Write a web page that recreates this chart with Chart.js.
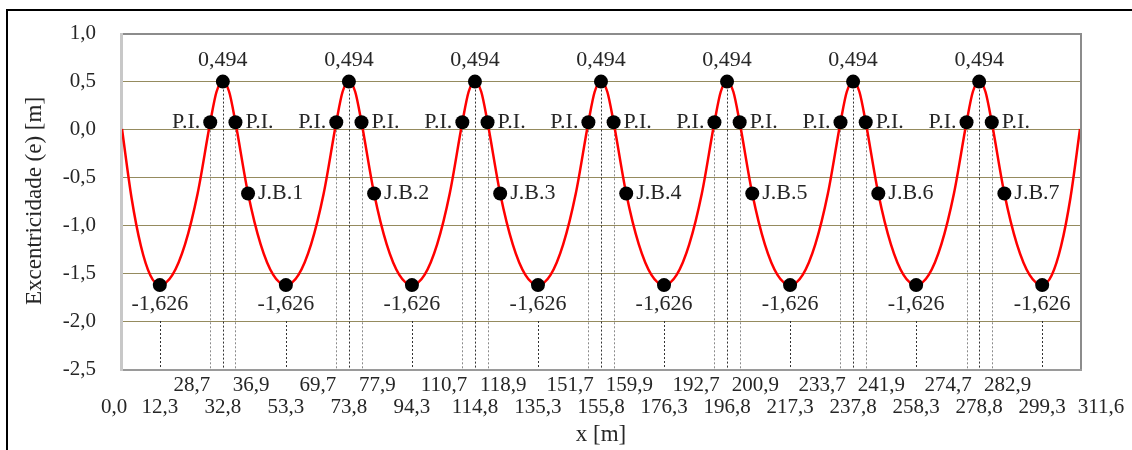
<!DOCTYPE html>
<html>
<head>
<meta charset="utf-8">
<script src="https://cdn.jsdelivr.net/npm/chart.js@4/dist/chart.umd.min.js"></script>
<style>
  html, body { margin: 0; padding: 0; background: #fff; }
  #wrap { width: 1132px; height: 450px; position: relative; }
</style>
</head>
<body>
<div id="wrap"><canvas id="chartCanvas" width="1132" height="450"></canvas></div>
<script>
// tendon profile
const profileX = [
  0, 3.1, 6.15, 9.2,
  12.3, 16.4, 20.5, 24.6, 28.7, 30.75, 32.8, 34.85, 36.9, 41.0, 45.1, 49.2,
  53.3, 57.4, 61.5, 65.6, 69.7, 71.75, 73.8, 75.85, 77.9, 82.0, 86.1, 90.2,
  94.3, 98.4, 102.5, 106.6, 110.7, 112.75, 114.8, 116.85, 118.9, 123.0, 127.1, 131.2,
  135.3, 139.4, 143.5, 147.6, 151.7, 153.75, 155.8, 157.85, 159.9, 164.0, 168.1, 172.2,
  176.3, 180.4, 184.5, 188.6, 192.7, 194.75, 196.8, 198.85, 200.9, 205.0, 209.1, 213.2,
  217.3, 221.4, 225.5, 229.6, 233.7, 235.75, 237.8, 239.85, 241.9, 246.0, 250.1, 254.2,
  258.3, 262.4, 266.5, 270.6, 274.7, 276.75, 278.8, 280.85, 282.9, 287.0, 291.1, 295.2,
  299.3, 302.4, 305.45, 308.5, 311.6
];
const profileY = [
  0, -0.716, -1.219, -1.523,
  -1.626, -1.520, -1.202, -0.672, 0.070, 0.388, 0.494, 0.388, 0.070, -0.672, -1.202, -1.520,
  -1.626, -1.520, -1.202, -0.672, 0.070, 0.388, 0.494, 0.388, 0.070, -0.672, -1.202, -1.520,
  -1.626, -1.520, -1.202, -0.672, 0.070, 0.388, 0.494, 0.388, 0.070, -0.672, -1.202, -1.520,
  -1.626, -1.520, -1.202, -0.672, 0.070, 0.388, 0.494, 0.388, 0.070, -0.672, -1.202, -1.520,
  -1.626, -1.520, -1.202, -0.672, 0.070, 0.388, 0.494, 0.388, 0.070, -0.672, -1.202, -1.520,
  -1.626, -1.520, -1.202, -0.672, 0.070, 0.388, 0.494, 0.388, 0.070, -0.672, -1.202, -1.520,
  -1.626, -1.520, -1.202, -0.672, 0.070, 0.388, 0.494, 0.388, 0.070, -0.672, -1.202, -1.520,
  -1.626, -1.523, -1.219, -0.716, 0
];

// marked points
const minX = [12.3, 53.3, 94.3, 135.3, 176.3, 217.3, 258.3, 299.3];
const minY = -1.626;
const peakX = [32.8, 73.8, 114.8, 155.8, 196.8, 237.8, 278.8];
const peakY = 0.494;
const piLeftX = [28.7, 69.7, 110.7, 151.7, 192.7, 233.7, 274.7];
const piRightX = [36.9, 77.9, 118.9, 159.9, 200.9, 241.9, 282.9];
const piY = 0.070;
const jbX = [41.0, 82.0, 123.0, 164.0, 205.0, 246.0, 287.0];
const jbY = -0.672;
const jbLabels = ["J.B.1", "J.B.2", "J.B.3", "J.B.4", "J.B.5", "J.B.6", "J.B.7"];

// x tick labels, two rows (upper row = inflection points)
const tickTop = piLeftX.concat(piRightX);
const tickBottom = [0.0, 12.3, 32.8, 53.3, 73.8, 94.3, 114.8, 135.3, 155.8, 176.3, 196.8, 217.3, 237.8, 258.3, 278.8, 299.3, 311.6];

const FONT = "'Liberation Serif', 'Times New Roman', serif";
const TXT = "#262626";
const GRID = "#958b5e";

function fmt(v, d){
    return v.toFixed(d).replace(".", ",");
}
function pts(xs, y){
    return xs.map(x => ({x: x, y: y}));
}
// labels in the upper row sit pushed away from each other, like in the original
function xLabel(value){
    const txt = fmt(value, 1);
    if (piLeftX.includes(value)) return txt + "       ";
    if (piRightX.includes(value)) return "      " + txt;
    if (value === 0) return ["", txt + "   "];
    if (value === 311.6) return ["", "        " + txt];
    return ["", txt];
}

const decorPlugin = {
    id: "decor",
    beforeDraw(chart){
        const ctx = chart.ctx;
        ctx.save();
        ctx.fillStyle = "#000";
        ctx.fillRect(6, 9, 1132, 2);
        ctx.fillRect(6, 9, 2, 450);
        ctx.restore();
    },
    beforeDatasetsDraw(chart){
        const ctx = chart.ctx;
        const xs = chart.scales.x, ys = chart.scales.y;
        const a = chart.chartArea;
        const bottom = ys.getPixelForValue(-2.5);
        ctx.save();
        ctx.lineWidth = 1;
        ctx.setLineDash([2, 2]);
        function drop(x, yFrom, color){
            const px = Math.round(xs.getPixelForValue(x)) + 0.5;
            ctx.strokeStyle = color;
            ctx.beginPath();
            ctx.moveTo(px, ys.getPixelForValue(yFrom));
            ctx.lineTo(px, bottom);
            ctx.stroke();
        }
        peakX.forEach(x => drop(x, peakY, "#333"));
        piLeftX.concat(piRightX).forEach(x => drop(x, piY, "#8a8a8a"));
        minX.forEach(x => drop(x, -2.0, "#333"));
        ctx.setLineDash([]);
        // plot frame
        ctx.lineWidth = 2;
        ctx.strokeStyle = "#8c8c8c";
        ctx.beginPath();
        ctx.moveTo(a.left, a.top + 1);
        ctx.lineTo(a.right + 1, a.top + 1);
        ctx.lineTo(a.right + 1, a.bottom);
        ctx.stroke();
        ctx.strokeStyle = "#9a9a9a";
        ctx.beginPath();
        ctx.moveTo(a.left, a.bottom + 1);
        ctx.lineTo(a.right + 2, a.bottom + 1);
        ctx.stroke();
        ctx.strokeStyle = "#c8c8c8";
        ctx.lineWidth = 3;
        ctx.beginPath();
        ctx.moveTo(a.left - 0.5, a.top);
        ctx.lineTo(a.left - 0.5, a.bottom + 2);
        ctx.stroke();
        ctx.restore();
    },
    afterDatasetsDraw(chart){
        const ctx = chart.ctx;
        const xs = chart.scales.x, ys = chart.scales.y;
        ctx.save();
        ctx.font = "22px " + FONT;
        ctx.fillStyle = TXT;
        ctx.textBaseline = "middle";
        ctx.textAlign = "center";
        peakX.forEach(x => ctx.fillText(fmt(peakY, 3), xs.getPixelForValue(x), ys.getPixelForValue(peakY) - 21));
        minX.forEach(x => ctx.fillText(fmt(minY, 3), xs.getPixelForValue(x), ys.getPixelForValue(minY) + 19));
        ctx.textAlign = "right";
        piLeftX.forEach(x => ctx.fillText("P.I.", xs.getPixelForValue(x) - 10, ys.getPixelForValue(piY)));
        ctx.textAlign = "left";
        piRightX.forEach(x => ctx.fillText("P.I.", xs.getPixelForValue(x) + 10, ys.getPixelForValue(piY)));
        jbX.forEach((x, i) => ctx.fillText(jbLabels[i], xs.getPixelForValue(x) + 10, ys.getPixelForValue(jbY)));
        ctx.restore();
    }
};

const marker = {
    showLine: false,
    pointRadius: 7,
    pointHoverRadius: 7,
    pointBackgroundColor: "#000",
    pointBorderWidth: 0,
    order: 0
};

const ctx = document.getElementById("chartCanvas").getContext("2d");
new Chart(ctx, {
    type: "scatter",
    data: {
        datasets: [
            Object.assign({label: "min", data: pts(minX, minY)}, marker),
            Object.assign({label: "peak", data: pts(peakX, peakY)}, marker),
            Object.assign({label: "pi", data: pts(piLeftX.concat(piRightX), piY)}, marker),
            Object.assign({label: "jb", data: pts(jbX, jbY)}, marker),
            {
                label: "Excentricidade",
                data: profileX.map((x, i) => ({x: x, y: profileY[i]})),
                showLine: true,
                borderColor: "#ff0000",
                borderWidth: 2.5,
                pointRadius: 0,
                cubicInterpolationMode: "monotone",
                order: 1
            }
        ]
    },
    options: {
        responsive: false,
        animation: false,
        events: [],
        layout: { padding: { top: 33, right: 52, bottom: 0, left: 0 } },
        plugins: { legend: { display: false }, tooltip: { enabled: false } },
        scales: {
            x: {
                type: "linear",
                min: 0,
                max: 311.6,
                afterBuildTicks: axis => {
                    axis.ticks = tickTop.concat(tickBottom).sort((a, b) => a - b).map(v => ({value: v}));
                },
                afterFit: axis => { axis.height = 81; },
                ticks: {
                    autoSkip: false,
                    maxRotation: 0,
                    padding: 5,
                    color: TXT,
                    font: { family: FONT, size: 21, lineHeight: 1.05 },
                    callback: xLabel
                },
                grid: { display: false, drawTicks: false },
                border: { display: false },
                title: {
                    display: true,
                    text: "x [m]",
                    color: TXT,
                    font: { family: FONT, size: 23 },
                    padding: { top: 0, bottom: 1 }
                }
            },
            y: {
                min: -2.5,
                max: 1.0,
                afterFit: axis => {
                    axis.width = 122;
                    // the tick padding is horizontal here, keep it out of the vertical margins
                    axis.paddingTop = 0;
                    axis.paddingBottom = 0;
                },
                ticks: {
                    stepSize: 0.5,
                    padding: 26,
                    color: TXT,
                    font: { family: FONT, size: 21 },
                    callback: v => fmt(v, 1)
                },
                grid: {
                    drawTicks: false,
                    lineWidth: 1,
                    color: c => (c.tick.value === 1 || c.tick.value === -2.5) ? "rgba(0,0,0,0)" : GRID
                },
                border: { display: false },
                title: {
                    display: true,
                    text: "Excentricidade (e) [m]",
                    color: TXT,
                    font: { family: FONT, size: 23 },
                    padding: { top: 21, bottom: 0 }
                }
            }
        }
    },
    plugins: [decorPlugin]
});
</script>
</body>
</html>
